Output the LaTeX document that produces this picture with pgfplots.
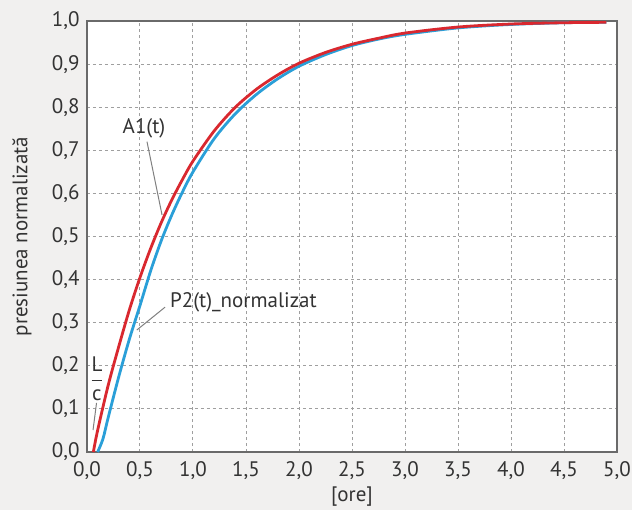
\documentclass[border=0pt]{standalone}
\usepackage{fontspec}
\setmainfont{PT Sans}
\usepackage{pgfplots}
\pgfplotsset{compat=1.18}

\definecolor{bgc}{HTML}{F1F0EF}
\definecolor{redc}{HTML}{D9282F}
\definecolor{bluec}{HTML}{2A9FD8}
\definecolor{txt}{HTML}{333333}
\definecolor{frame}{HTML}{6A6A6A}

% curve data
\pgfplotstableread{
t     p
0.06  0.000
0.10  0.050
0.20  0.155
0.30  0.245
0.40  0.330
0.50  0.405
0.60  0.472
0.70  0.532
0.80  0.585
0.90  0.632
1.00  0.675
1.20  0.745
1.40  0.800
1.60  0.842
1.80  0.875
2.00  0.902
2.25  0.927
2.50  0.946
2.75  0.960
3.00  0.972
3.50  0.986
4.00  0.993
4.50  0.996
4.90  0.997
}\aone

\pgfplotstableread{
t     p
0.10  0.000
0.15  0.030
0.20  0.080
0.30  0.175
0.40  0.262
0.50  0.340
0.60  0.420
0.70  0.490
0.80  0.550
0.90  0.603
1.00  0.650
1.20  0.727
1.40  0.785
1.60  0.830
1.80  0.866
2.00  0.895
2.25  0.922
2.50  0.943
2.75  0.958
3.00  0.969
3.50  0.984
4.00  0.992
4.50  0.996
4.90  0.997
}\ptwo

\begin{document}
\fontsize{10.5}{12}\selectfont
\begin{tikzpicture}
\fill[bgc] (-43.5pt,-29pt) rectangle (272.5pt,226pt);
\useasboundingbox (-43.5pt,-29pt) rectangle (272.5pt,226pt);
\begin{axis}[
  at={(0,0)}, anchor=south west,
  scale only axis,
  width=265pt, height=215.5pt,
  xmin=0, xmax=5, ymin=0, ymax=1,
  xtick={0,0.5,...,5}, ytick={0,0.1,...,1.0},
  axis background/.style={fill=white},
  axis line style={frame, line width=0.8pt},
  major tick length=0pt,
  grid=major,
  grid style={gray!75, line width=0.5pt, dash pattern=on 1.6pt off 1.4pt},
  /pgf/number format/.cd, fixed, fixed zerofill, precision=1, use comma, assume math mode=true,
  /pgfplots/.cd,
  tick label style={text=txt, font=\fontsize{10.5}{12}\selectfont, inner sep=0pt},
  xticklabel style={yshift=-4.5pt},
  yticklabel style={xshift=-3.5pt},
  xlabel={[ore]},
  ylabel={presiunea normalizată},
  label style={text=txt, font=\fontsize{10.5}{12}\selectfont},
  x label style={at={(axis description cs:0.5,-0.1044)}, anchor=center},
  y label style={at={(axis description cs:-0.1226,0.5)}, anchor=center},
]
\addplot[bluec, line width=1.4pt, no markers, smooth] table[x=t, y=p] {\ptwo};
\addplot[redc, line width=1.4pt, no markers, smooth] table[x=t, y=p] {\aone};

\draw[gray, line width=0.5pt] (axis cs:0.566,0.72) -- (axis cs:0.708,0.55);
\node[text=txt] at (axis cs:0.538,0.752) {A1(t)};
\draw[gray, line width=0.5pt] (axis cs:0.736,0.336) -- (axis cs:0.47,0.283);
\node[text=txt, anchor=west, inner sep=0pt] at (axis cs:0.78,0.348) {P2(t)\_normalizat};
\draw[gray, line width=0.5pt] (axis cs:0.09,0.114) -- (axis cs:0.057,0.051);
\node[text=txt, inner sep=0pt] at (axis cs:0.094,0.17) {$\displaystyle\frac{\mbox{L}}{\mbox{c}}$};
\end{axis}
\end{tikzpicture}
\end{document}
